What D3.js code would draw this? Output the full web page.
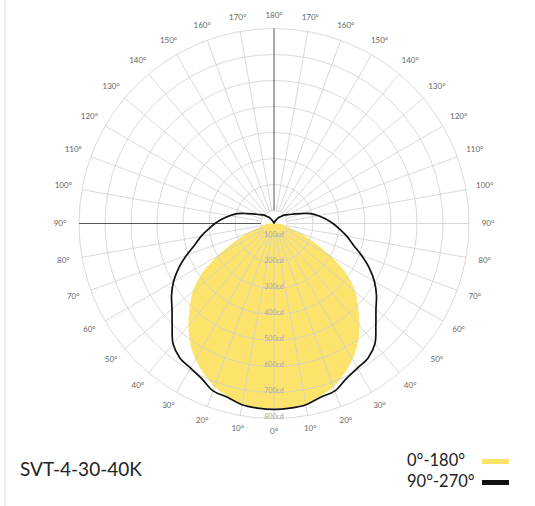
<!DOCTYPE html>
<html>
<head>
<meta charset="utf-8">
<script src="https://cdn.jsdelivr.net/npm/d3@7"></script>
<style>
  body { margin: 0; background: #fff; }
  text { font-family: Lato, "Open Sans", sans-serif; }
</style>
</head>
<body>
<script>

  // angles measured from straight down (0°) to straight up (180°), mirrored left / right
  var angles = d3.range(0, 181, 5);

  // candela, 0°-180° plane (yellow fill)
  var plane0 = [761, 760, 754, 738, 719, 688, 654, 612, 562, 508, 458, 392, 304, 219, 158, 112, 92, 81, 69,
                0, 0, 0, 0, 0, 0, 0, 0, 0, 0, 0, 0, 0, 0, 0, 0, 0, 0];

  // candela, 90°-270° plane (black line)
  var plane90 = [765, 763, 758, 742, 735, 708, 692, 681, 654, 604, 562, 531, 496, 454, 408, 365, 335, 304, 277,
                 250, 223, 196, 162, 138, 119, 108, 100, 88, 81, 73, 65, 60, 56, 52, 50, 50, 50];

  var rings = [100, 200, 300, 400, 500, 600, 700, 800];
  var spokeAngles = d3.range(0, 360, 10);
  var labelAngles = d3.range(0, 181, 10);

  var title = "SVT-4-30-40K";
  var legendItems = [
    { name: "0°-180°", color: "#fce46c" },
    { name: "90°-270°", color: "#111" }
  ];

  var width = 535, height = 506;
  var cx = 274, cy = 223.5;

  var r = d3.scaleLinear().domain([50, 800]).range([0, 195]).clamp(true);
  var rad = function(deg) { return deg * Math.PI / 180; };

  var svg = d3.select("body").append("svg")
      .attr("width", width)
      .attr("height", height);

  // faint strip at the left edge
  svg.append("rect")
      .attr("x", 4).attr("y", 0)
      .attr("width", 2).attr("height", height)
      .attr("fill", "#ededed");

  var g = svg.append("g").attr("transform", "translate(" + cx + "," + cy + ")");

  // build closed outline: right half (0..180) then left half (180..0)
  var outline = function(values) {
    var pts = [];
    angles.slice().reverse().forEach(function(a, i) {
      pts.push([rad(180 - a), r(values[angles.length - 1 - i])]);
    });
    angles.forEach(function(a, i) {
      if (a > 0 && a < 180) pts.push([rad(180 + a), r(values[i])]);
    });
    return pts;
  };

  var line = d3.lineRadial()
      .angle(function(d) { return d[0]; })
      .radius(function(d) { return d[1]; })
      .curve(d3.curveCatmullRomClosed.alpha(0.5));

  g.append("path")
      .attr("d", line(outline(plane0)))
      .attr("fill", legendItems[0].color)
      .attr("stroke", "none");

  // grid rings
  g.selectAll("circle.ring")
    .data(rings)
    .enter().append("circle")
      .attr("class", "ring")
      .attr("r", function(d) { return r(d); })
      .attr("fill", "none")
      .attr("stroke", "#cfcfcf")
      .attr("stroke-width", 0.8);

  // spokes
  g.selectAll("line.spoke")
    .data(spokeAngles)
    .enter().append("line")
      .attr("class", "spoke")
      .attr("x1", function(d) { return r(100) * Math.sin(rad(d)); })
      .attr("y1", function(d) { return r(100) * Math.cos(rad(d)); })
      .attr("x2", function(d) { return r(800) * Math.sin(rad(d)); })
      .attr("y2", function(d) { return r(800) * Math.cos(rad(d)); })
      .attr("stroke", function(d) { return (d === 180 || d === 270) ? "#555" : "#cfcfcf"; })
      .attr("stroke-width", function(d) { return (d === 180 || d === 270) ? 1 : 0.8; });

  // ring labels along the 0° spoke
  g.selectAll("text.cd")
    .data(rings)
    .enter().append("text")
      .attr("class", "cd")
      .attr("x", 0)
      .attr("y", function(d) { return r(d) - 1.5; })
      .attr("text-anchor", "middle")
      .attr("dominant-baseline", "middle")
      .attr("font-size", 7)
      .attr("fill", "#a8a8a8")
      .text(function(d) { return d + "cd"; });

  // angle labels, both sides
  var sides = [];
  labelAngles.forEach(function(a) {
    sides.push({ a: a, s: 1 });
    if (a > 0 && a < 180) sides.push({ a: a, s: -1 });
  });

  g.selectAll("text.ang")
    .data(sides)
    .enter().append("text")
      .attr("class", "ang")
      .attr("x", function(d) { var R = 208 + 6 * Math.sin(rad(d.a)); return d.s * R * Math.sin(rad(d.a)); })
      .attr("y", function(d) { var R = 208 + 6 * Math.sin(rad(d.a)); return R * Math.cos(rad(d.a)); })
      .attr("text-anchor", "middle")
      .attr("dominant-baseline", "middle")
      .attr("font-size", 8)
      .attr("fill", "#666")
      .text(function(d) { return d.a + "°"; });

  g.append("path")
      .attr("d", line(outline(plane90)))
      .attr("fill", "none")
      .attr("stroke", legendItems[1].color)
      .attr("stroke-width", 1.7)
      .attr("stroke-linejoin", "round");

  // title
  svg.append("text")
      .attr("x", 20)
      .attr("y", 476)
      .attr("font-size", 19)
      .attr("fill", "#222")
      .text(title);

  // legend
  var legend = svg.selectAll("g.legend")
    .data(legendItems)
    .enter().append("g")
      .attr("class", "legend")
      .attr("transform", function(d, i) { return "translate(0," + (i * 21) + ")"; });

  legend.append("text")
      .attr("x", 407)
      .attr("y", 466)
      .attr("font-size", 16.5)
      .attr("fill", "#222")
      .text(function(d) { return d.name; });

  legend.append("rect")
      .attr("x", 482)
      .attr("y", 459)
      .attr("width", 27)
      .attr("height", 5)
      .attr("fill", function(d) { return d.color; });

</script>
</body>
</html>
